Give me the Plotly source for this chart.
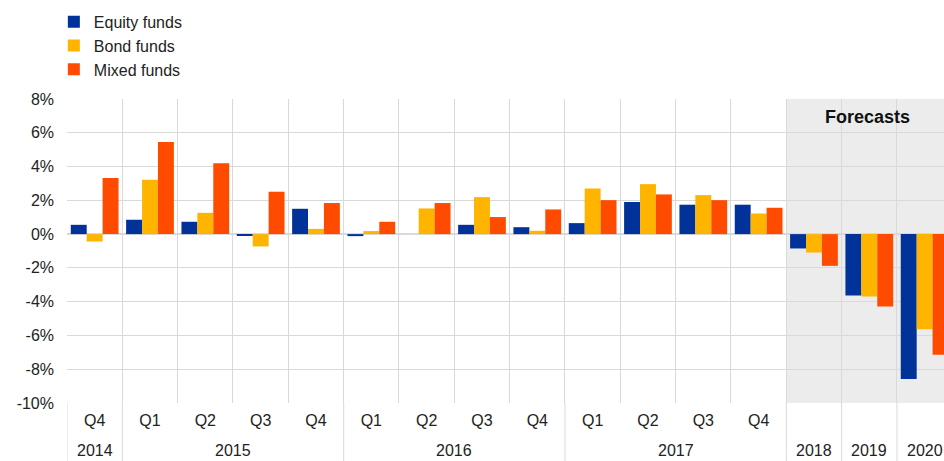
import plotly.graph_objects as go

# Quarterly flows 2014 Q4 - 2017 Q4, annual forecasts 2018 - 2020 (% of assets)
quarters = ["Q4", "Q1", "Q2", "Q3", "Q4",
            "Q1", "Q2", "Q3", "Q4",
            "Q1", "Q2", "Q3", "Q4",
            "", "", ""]
year_labels = ["2014", "2015", "2016", "2017", "2018", "2019", "2020"]
year_sizes = [1, 4, 4, 4, 1, 1, 1]  # number of periods under each year

equity = [0.55, 0.85, 0.73, -0.08, 1.50,
          -0.12, 0.00, 0.55, 0.41,
          0.65, 1.90, 1.74, 1.74,
          -0.85, -3.64, -8.58]
bond = [-0.44, 3.22, 1.26, -0.73, 0.31,
        0.18, 1.52, 2.19, 0.20,
        2.70, 2.96, 2.31, 1.22,
        -1.09, -3.70, -5.63]
mixed = [3.32, 5.45, 4.19, 2.51, 1.84,
         0.73, 1.84, 1.01, 1.46,
         2.01, 2.35, 2.01, 1.56,
         -1.88, -4.29, -7.14]

y_ticks = [8, 6, 4, 2, 0, -2, -4, -6, -8, -10]
y_tick_labels = ["8%", "6%", "4%", "2%", "0%", "-2%", "-4%", "-6%", "-8%", "-10%"]

series = [
    ("Equity funds", equity, "#003299"),
    ("Bond funds", bond, "#ffb400"),
    ("Mixed funds", mixed, "#ff4b00"),
]

FONT = "Liberation Sans, Arial, sans-serif"
GRID = "#d9d9d9"
TEXT = "#222222"
SIZE = 16

n = len(quarters)
pos = list(range(n))
boundaries = [i - 0.5 for i in range(n + 1)]
n_forecast = 3

fig = go.Figure()
for name, vals, color in series:
    fig.add_trace(go.Bar(
        x=pos, y=vals, name=name,
        marker=dict(color=color, line=dict(width=0)),
    ))

# shaded forecast horizon
fig.add_shape(type="rect", xref="x", yref="paper",
              x0=n - n_forecast - 0.5, x1=n - 0.5, y0=0, y1=1,
              fillcolor="#ececec", line=dict(width=0), layer="below")

fig.add_annotation(text="<b>Forecasts</b>", xref="x", yref="paper",
                   x=n - 2.03, y=0.94, xanchor="center", yanchor="middle",
                   showarrow=False,
                   font=dict(family=FONT, size=18, color="#111111"))

# year row under the quarter labels, with dividers between years
start = 0
for label, size in zip(year_labels, year_sizes):
    left = start - 0.5
    right = start + size - 0.5
    fig.add_annotation(text=label, xref="x", yref="paper",
                       x=(left + right) / 2, y=-0.155,
                       xanchor="center", yanchor="middle", showarrow=False,
                       font=dict(family=FONT, size=SIZE, color=TEXT))
    fig.add_shape(type="line", xref="x", yref="paper",
                  x0=left, x1=left, y0=0, y1=-0.2,
                  line=dict(color=GRID, width=1))
    start += size

fig.update_layout(
    width=944, height=461,
    margin=dict(l=67, r=0, t=99, b=58),
    paper_bgcolor="white", plot_bgcolor="white",
    barmode="group", bargap=0.137, bargroupgap=0,
    font=dict(family=FONT, size=SIZE, color=TEXT),
    showlegend=True,
    legend=dict(x=-0.015, y=1.31, xanchor="left", yanchor="top",
                traceorder="normal",
                font=dict(family=FONT, size=SIZE, color=TEXT),
                bgcolor="rgba(0,0,0,0)"),
    xaxis=dict(
        range=[-0.5, 15.35],
        tickvals=pos, ticktext=quarters,
        showgrid=False, zeroline=False, showline=False, ticks="",
        ticklabelstandoff=6,
        minor=dict(tickvals=boundaries, showgrid=True,
                   gridcolor=GRID, gridwidth=1, ticks=""),
        tickfont=dict(family=FONT, size=SIZE, color=TEXT),
    ),
    yaxis=dict(
        range=[-10, 8],
        tickvals=y_ticks, ticktext=y_tick_labels,
        showgrid=True, gridcolor=GRID, gridwidth=1,
        zeroline=True, zerolinecolor=GRID, zerolinewidth=1.5,
        showline=False, ticks="",
        ticklabelstandoff=12,
        tickfont=dict(family=FONT, size=SIZE, color=TEXT),
    ),
)

fig.write_html("out.html")
